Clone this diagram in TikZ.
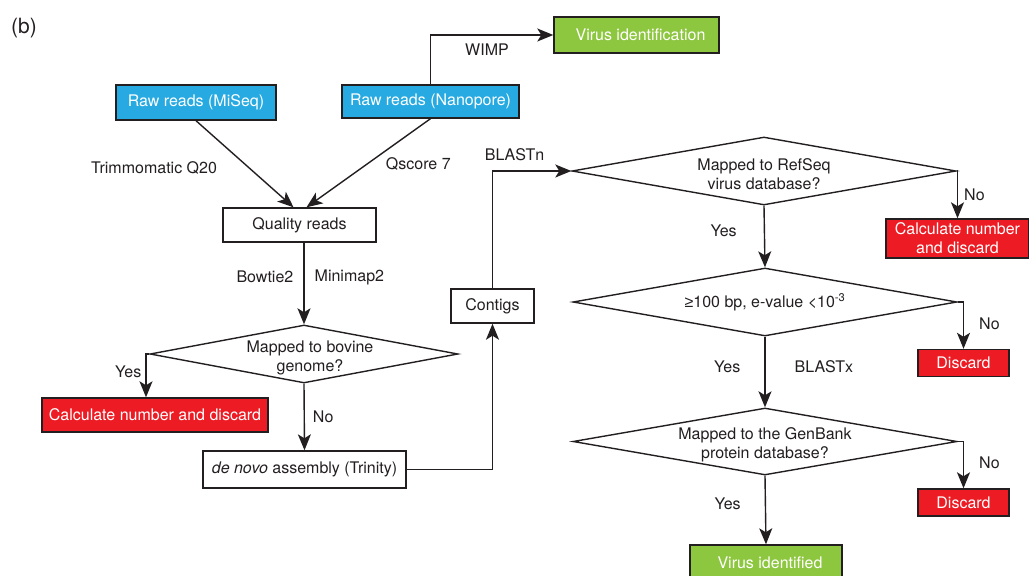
\documentclass[tikz,border=0pt]{standalone}
\usepackage{fontspec}
\setmainfont{TeX Gyre Heros}
\newfontfamily\symfont{Liberation Sans}
\usepackage{tikz}
\usetikzlibrary{arrows.meta}
\usetikzlibrary{shapes.geometric}

\definecolor{rawblue}{HTML}{27AAE1}
\definecolor{virusgreen}{HTML}{8DC63F}
\definecolor{dropred}{HTML}{ED1C24}
\definecolor{ink}{HTML}{231F20}
\newcommand{\lowstrut}{\rule{0pt}{19pt}}

\begin{document}
\begin{tikzpicture}[x=1pt,y=1pt,color=ink,line width=1.4pt,
    >={Stealth[length=16pt,width=13pt,inset=4pt]},
    font=\fontsize{16}{19}\selectfont,
    box/.style={rectangle,draw=ink,line width=1.4pt,inner sep=0pt,align=center,minimum height=34pt},
    raw/.style={box,fill=rawblue,text=white},
    found/.style={box,fill=virusgreen,text=white,minimum height=36pt},
    drop/.style={box,fill=dropred,text=white},
    test/.style={diamond,draw=ink,line width=1.4pt,align=center,inner xsep=-50pt,inner ysep=-5pt,
                 aspect=5.6,minimum width=384pt,minimum height=68pt},
    lbl/.style={inner sep=2pt}]
   \useasboundingbox (0,0) rectangle (1029,-576);
   \node[font=\fontsize{21}{25}\selectfont] (panel) at (24,-28) {(b)};
   % input reads
   \node[raw,minimum width=160pt,minimum height=35pt] (miseq) at (196,-102.5) {Raw reads (MiSeq)};
   \node[raw,minimum width=177pt,minimum height=33pt] (nano)  at (430.5,-101.5) {Raw reads (Nanopore)};
   \node[found,minimum width=165pt] (virusid) at (636.5,-35) {\hspace{8pt}Virus identification};
   \node[box,minimum width=153pt] (quality) at (299.5,-225) {Quality reads};
   \node[test,minimum width=308pt,minimum height=58pt] (bovine) at (304,-354) {\lowstrut\hspace{12pt}Mapped to bovine\\\hspace{12pt}genome?};
   \node[drop,minimum width=226pt] (calc) at (155,-415) {Calculate number and discard};
   \node[box,minimum width=203pt,minimum height=37pt] (denovo) at (304.5,-469.5) {\textit{de novo} assembly (Trinity)};
   \node[box,minimum width=83pt] (contigs) at (492.5,-306) {Contigs};
   % virus screening
   \node[test] (refseq) at (764,-171) {\lowstrut Mapped to RefSeq\\virus database?};
   \node[drop,minimum width=143pt,minimum height=39pt] (calcb) at (957.5,-238.5) {Calculate number\\and discard};
   \node[test] (hit) at (765,-302) {{\symfont ≥}100 bp, e-value <10\textsuperscript{-3}};
   \node[drop,minimum width=91pt,minimum height=27pt] (dropa) at (963.5,-363) {Discard};
   \node[test,minimum height=67pt] (genbank) at (765,-441.5) {\lowstrut Mapped to the GenBank\\protein database?};
   \node[drop,minimum width=91pt,minimum height=27pt] (dropb) at (963.5,-502.5) {Discard};
   \node[found,minimum width=152pt] (virusok) at (766,-563) {\hspace{8pt}Virus identified};

   \path[->] (miseq.south) edge node[lbl,pos=0.55,left=30pt] {Trimmomatic Q20} ([xshift=-6pt]quality.north)
             (nano.south)  edge node[lbl,pos=0.51,right=16pt] {Qscore 7} ([xshift=7pt]quality.north)
             (quality.south -| bovine.north) edge node[lbl,pos=0.42,left=8pt] {Bowtie2}
                                                  node[lbl,pos=0.42,right=8pt] {Minimap2} (bovine.north)
             (bovine.south) edge node[lbl,right=6pt] {No} (denovo.north)
             (refseq.south) edge node[lbl,pos=0.4,left=25pt] {Yes} (hit.north)
             (hit.south)    edge node[lbl,pos=0.43,left=22pt] {Yes}
                                 node[lbl,pos=0.43,right=27pt] {BLASTx} (genbank.north)
             (genbank.south) edge node[lbl,pos=0.41,left=22pt] {Yes} (virusok.north);
   \draw[->] (nano.north) |- node[lbl,pos=0.73,below=6pt] {WIMP} (virusid.west);
   \draw[->] (bovine.west) -| node[lbl,pos=0.7,left=2pt] {Yes} ([xshift=-9pt]calc.north);
   \draw[->] (denovo.east) -| (contigs.south);
   \draw[->] (contigs.north) |- node[lbl,pos=0.64,above=8pt] {BLASTn} (refseq.west);
   \draw[->] (refseq.east) -| node[lbl,pos=0.75,right=4pt] {No} (calcb.north);
   \draw[->] (hit.east) -| node[lbl,pos=0.73,right=13pt] {No} (dropa.north);
   \draw[->] (genbank.east) -| node[lbl,pos=0.73,right=13pt] {No} (dropb.north);
\end{tikzpicture}
\end{document}
